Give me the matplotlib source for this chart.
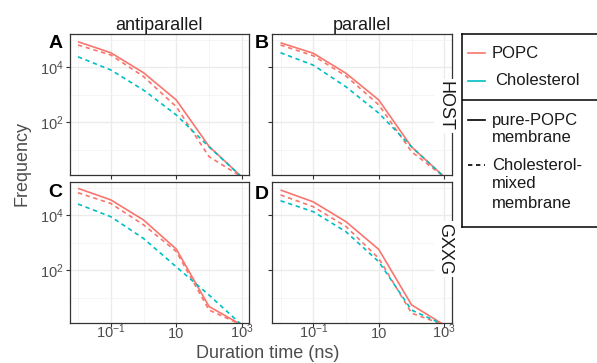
import matplotlib
matplotlib.use("Agg")
import matplotlib.pyplot as plt
from matplotlib.lines import Line2D

plt.rcParams['font.family'] = ['Liberation Sans', 'DejaVu Sans']
plt.rcParams['mathtext.fontset'] = 'custom'
plt.rcParams['mathtext.rm'] = 'Liberation Sans'
plt.rcParams['mathtext.default'] = 'regular'

W, H = 597, 363

# durations (ns)
duration = [0.01, 0.1, 1, 10, 100, 1000]

# frequency per panel: (solid POPC, dashed POPC, dashed Cholesterol)
host_anti_popc_pure = [83000, 33000, 6200, 630, 13, 1]
host_anti_popc_mix = [63000, 27500, 4500, 360, 5.5, 1]
host_anti_chol_mix = [23500, 7800, 1450, 180, 12.5, 1]

host_para_popc_pure = [76000, 31600, 5900, 630, 12.5, 1]
host_para_popc_mix = [63000, 25700, 4700, 420, 8.3, 1]
host_para_chol_mix = [33000, 11700, 1900, 210, 12.5, 1]

gxxg_anti_popc_pure = [93000, 35500, 6600, 575, 4.7, 1]
gxxg_anti_popc_mix = [64500, 26300, 4400, 470, 3.5, 1]
gxxg_anti_chol_mix = [25000, 8700, 1400, 130, 12.3, 1]

gxxg_para_popc_pure = [81000, 30000, 5700, 560, 5.4, 1]
gxxg_para_popc_mix = [53700, 20000, 3800, 265, 2.7, 1]
gxxg_para_chol_mix = [33000, 13200, 2450, 200, 3.5, 1]

RED = '#F8766D'
CYAN = '#00BFC4'
DASH = (2.6, 2.2)


def box(x0, y0, x1, y1):
    return [x0 / W, 1 - y1 / H, (x1 - x0) / W, (y1 - y0) / H]


fig = plt.figure(figsize=(W / 100, H / 100), dpi=100)

panels = [
    ('A', box(69.5, 34, 249, 175), host_anti_popc_pure, host_anti_popc_mix, host_anti_chol_mix, True, False, (56, 43.5)),
    ('B', box(272, 34, 451.5, 175), host_para_popc_pure, host_para_popc_mix, host_para_chol_mix, False, False, (261.5, 43)),
    ('C', box(69.5, 182, 249, 323), gxxg_anti_popc_pure, gxxg_anti_popc_mix, gxxg_anti_chol_mix, True, True, (55.5, 192.5)),
    ('D', box(272, 182, 451.5, 323), gxxg_para_popc_pure, gxxg_para_popc_mix, gxxg_para_chol_mix, False, True, (261.5, 194.5)),
]

for lab, rect, pure, mix, chol, yl, xl, lpos in panels:
    ax = fig.add_axes(rect)
    ax.set_xscale('log')
    ax.set_yscale('log')
    ax.set_xlim(10 ** -2.26, 10 ** 3.22)
    ax.set_ylim(10 ** 0.073, 10 ** 5.2)
    # grid
    for v in [1e-1, 10, 1e3]:
        ax.axvline(v, color='#EBEBEB', lw=1.0, zorder=0)
    for v in [1e-2, 1, 1e2]:
        ax.axvline(v, color='#F2F2F2', lw=0.5, zorder=0)
    for v in [1e2, 1e4]:
        ax.axhline(v, color='#EBEBEB', lw=1.0, zorder=0)
    for v in [1e1, 1e3, 1e5]:
        ax.axhline(v, color='#F2F2F2', lw=0.5, zorder=0)
    ax.plot(duration, pure, color=RED, lw=1.2, solid_capstyle='butt')
    ax.plot(duration, mix, color=RED, lw=1.2, dashes=DASH)
    ax.plot(duration, chol, color=CYAN, lw=1.2, dashes=DASH)

    ax.set_xticks([1e-1, 10, 1e3])
    ax.set_xticks([], minor=True)
    ax.set_yticks([1e2, 1e4])
    ax.set_yticks([], minor=True)
    ax.set_xticklabels(['10$^{-1}$', '10', '10$^{3}$'] if xl else [])
    ax.set_yticklabels(['10$^{2}$', '10$^{4}$'] if yl else [])
    ax.tick_params(length=2.8, width=0.8, color='#333333', labelcolor='#4D4D4D',
                   labelsize=10.5)
    ax.tick_params(axis='y', pad=1.5)
    ax.tick_params(axis='x', pad=8)
    for t in ax.get_xticklabels():
        t.set_va('baseline')
    for s in ax.spines.values():
        s.set_color('#333333')
        s.set_linewidth(0.9)
    fig.text(lpos[0] / W, 1 - lpos[1] / H, lab, fontsize=14, fontweight='bold',
             ha='center', va='center')

# column titles
fig.text(159 / W, 1 - 25 / H, 'antiparallel', fontsize=13, ha='center', va='center', color='#1A1A1A')
fig.text(362 / W, 1 - 25 / H, 'parallel', fontsize=13, ha='center', va='center', color='#1A1A1A')

# row strips
for txt, yc in [('HOST', 106), ('GXXG', 249)]:
    fig.text(444.5 / W, 1 - yc / H, txt, fontsize=13, rotation=270, ha='center', va='center',
             color='#1A1A1A', bbox=dict(facecolor='white', edgecolor='none', pad=1.5), zorder=10)

# axis labels
fig.text(22 / W, 1 - 164 / H, 'Frequency', fontsize=13, rotation=90, ha='center', va='center', color='#4D4D4D')
fig.text(268 / W, 1 - 354 / H, 'Duration time (ns)', fontsize=13, ha='center', va='center', color='#4D4D4D')

# legend box
lg = fig.add_axes(box(461.7, 34, 610, 227))
lg.set_xlim(0, 1)
lg.set_ylim(1, 0)
lg.set_xticks([])
lg.set_yticks([])
for s in lg.spines.values():
    s.set_color('black')
    s.set_linewidth(1.1)


def ly(y):
    return (y - 34) / (227 - 34)


def lx(x):
    return (x - 461.7) / (610 - 461.7)


lg.axhline(ly(100), color='black', lw=1.1)
keys = [
    (53, dict(color=RED, lw=1.2)),
    (80.7, dict(color=CYAN, lw=1.2)),
    (120, dict(color='black', lw=1.2)),
    (165, dict(color='black', lw=1.2, dashes=DASH)),
]
for y, st in keys:
    lg.add_line(Line2D([lx(468), lx(485)], [ly(y), ly(y)], **st))

labels = [
    (53, 'POPC', 492), (80.7, 'Cholesterol', 495),
    (120, 'pure-POPC', 492), (138, 'membrane', 492),
    (165, 'Cholesterol-', 492), (184, 'mixed', 492), (203, 'membrane', 492),
]
for y, txt, tx in labels:
    lg.text(lx(tx), ly(y), txt, fontsize=12, va='center', ha='left', color='#1A1A1A')

fig.savefig('out.png', dpi=100)
